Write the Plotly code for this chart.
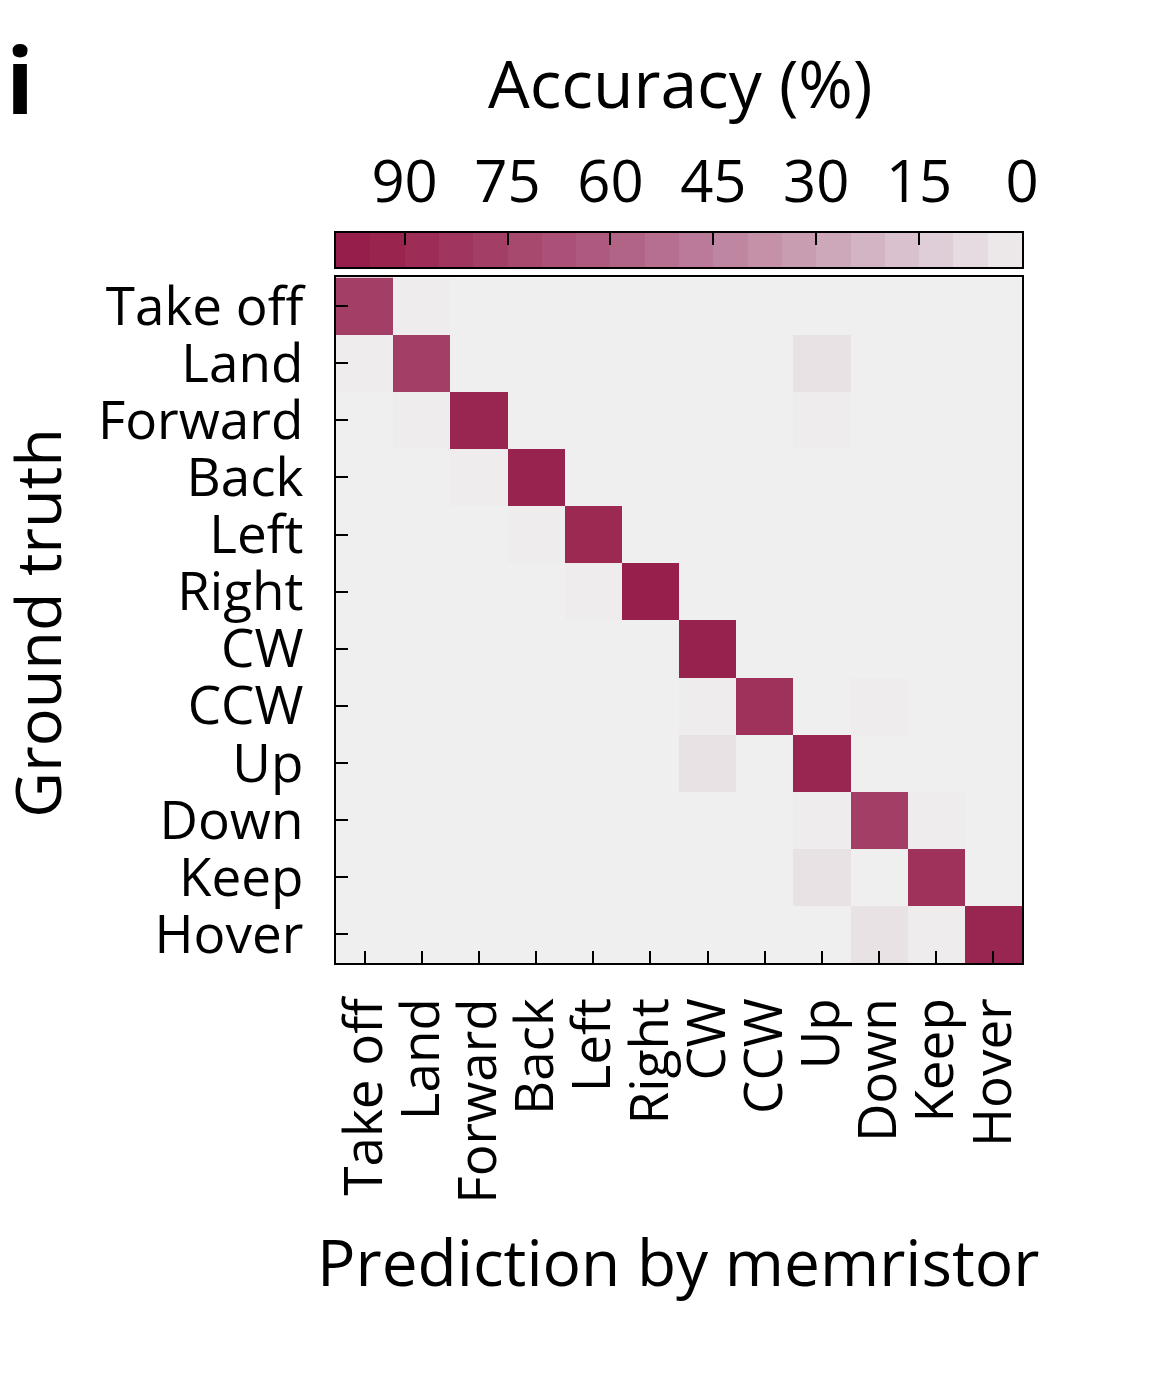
import plotly.graph_objects as go

# class labels (rows = ground truth, columns = prediction)
labels = ["Take off", "Land", "Forward", "Back", "Left", "Right",
          "CW", "CCW", "Up", "Down", "Keep", "Hover"]

# accuracy in %
acc_take_off = [78, 1, 0, 0, 0, 0, 0, 0, 0, 0, 0, 0]
acc_land     = [1, 78, 0, 0, 0, 0, 0, 0, 5, 0, 0, 0]
acc_forward  = [0, 1, 92, 0, 0, 0, 0, 0, 1, 0, 0, 0]
acc_back     = [0, 0, 1, 94, 0, 0, 0, 0, 0, 0, 0, 0]
acc_left     = [0, 0, 0, 1, 90, 0, 0, 0, 0, 0, 0, 0]
acc_right    = [0, 0, 0, 0, 1, 96, 0, 0, 0, 0, 0, 0]
acc_cw       = [0, 0, 0, 0, 0, 0, 95, 0, 0, 0, 0, 0]
acc_ccw      = [0, 0, 0, 0, 0, 0, 1, 85, 0, 1, 0, 0]
acc_up       = [0, 0, 0, 0, 0, 0, 5, 0, 92, 0, 0, 0]
acc_down     = [0, 0, 0, 0, 0, 0, 0, 0, 1, 78, 1, 0]
acc_keep     = [0, 0, 0, 0, 0, 0, 0, 0, 5, 0, 85, 0]
acc_hover    = [0, 0, 0, 0, 0, 0, 0, 0, 0, 5, 1, 92]

# colour bar: band centres (5 % steps) and labelled ticks
cbar_levels = [97.5, 92.5, 87.5, 82.5, 77.5, 72.5, 67.5, 62.5, 57.5, 52.5,
               47.5, 42.5, 37.5, 32.5, 27.5, 22.5, 17.5, 12.5, 7.5, 2.5]
cbar_ticks = [90, 75, 60, 45, 30, 15, 0]

acc = [acc_take_off, acc_land, acc_forward, acc_back, acc_left, acc_right,
       acc_cw, acc_ccw, acc_up, acc_down, acc_keep, acc_hover]

cscale = [
    [0.00, "#efefef"],
    [0.15, "#dcc7d2"],
    [0.30, "#caa1b5"],
    [0.45, "#bd809d"],
    [0.60, "#b05e82"],
    [0.75, "#a5436b"],
    [0.90, "#9b2952"],
    [1.00, "#931a47"],
]

FONT = "Open Sans"
BLACK = "black"

# the page adds an 8px body margin, so lay out in reference pixels minus 8
W, H = 1162, 1381
L, R, T, B = 328, 148, 20, 426
PW = W - L - R          # 686
PH = H - T - B          # 935
Y0 = 963                # reference pixel row of the plot bottom


def py(y_ref):
    return (Y0 - y_ref) / PH


def px(x_ref):
    return (x_ref - 336) / PW


fig = go.Figure()
fig.add_trace(go.Heatmap(
    z=acc, x=labels, y=labels,
    colorscale=cscale, zmin=0, zmax=100, showscale=False,
    hovertemplate="Truth: %{y}<br>Prediction: %{x}<br>%{z}%<extra></extra>",
))
fig.add_trace(go.Heatmap(
    z=[cbar_levels], x=cbar_levels, y=[0],
    xaxis="x2", yaxis="y2",
    colorscale=cscale, zmin=0, zmax=100, showscale=False,
    hoverinfo="skip",
))

axis_common = dict(
    ticks="inside", ticklen=12, tickwidth=2, tickcolor=BLACK,
    showline=True, linewidth=2, linecolor=BLACK, mirror=True,
    showgrid=False, zeroline=False,
)

fig.update_layout(
    xaxis=dict(
        type="category", tickmode="array", tickvals=labels,
        tickangle=-90, domain=[0, 1], anchor="y",
        tickfont=dict(family=FONT, size=53, color=BLACK),
        ticklabelstandoff=12,
        **axis_common,
    ),
    yaxis=dict(
        type="category", tickmode="array", tickvals=labels,
        autorange="reversed", domain=[0, py(276)], anchor="x",
        tickfont=dict(family=FONT, size=53, color=BLACK),
        ticklabelstandoff=20,
        **axis_common,
    ),
    xaxis2=dict(
        range=[100, 0], side="top", anchor="y2", domain=[0, 1],
        tickmode="array", tickvals=cbar_ticks,
        tickfont=dict(family=FONT, size=58, color=BLACK),
        ticklabelstandoff=5,
        **axis_common,
    ),
    yaxis2=dict(
        domain=[py(266), py(231)], anchor="x2",
        showticklabels=False, ticks="",
        showline=True, linewidth=2, linecolor=BLACK, mirror=True,
        showgrid=False, zeroline=False,
    ),
    width=W, height=H,
    margin=dict(l=L, r=R, t=T, b=B),
    paper_bgcolor="white",
    plot_bgcolor="white",
    font=dict(family=FONT, color=BLACK),
    showlegend=False,
)

centred = dict(xref="paper", yref="paper", xanchor="center", yanchor="middle",
               showarrow=False)
fig.add_annotation(text="Accuracy (%)", x=px(680), y=py(80),
                   font=dict(family=FONT, size=66, color=BLACK), **centred)
fig.add_annotation(text="Prediction by memristor", x=px(678), y=py(1262),
                   font=dict(family=FONT, size=64, color=BLACK), **centred)
fig.add_annotation(text="Ground truth", textangle=-90, x=px(37), y=py(622),
                   font=dict(family=FONT, size=63, color=BLACK), **centred)
fig.add_annotation(text="<b>i</b>", xref="paper", yref="paper",
                   x=px(4), y=py(77), xanchor="left", yanchor="middle",
                   showarrow=False, font=dict(family=FONT, size=92, color=BLACK))

fig.write_html("out.html")
